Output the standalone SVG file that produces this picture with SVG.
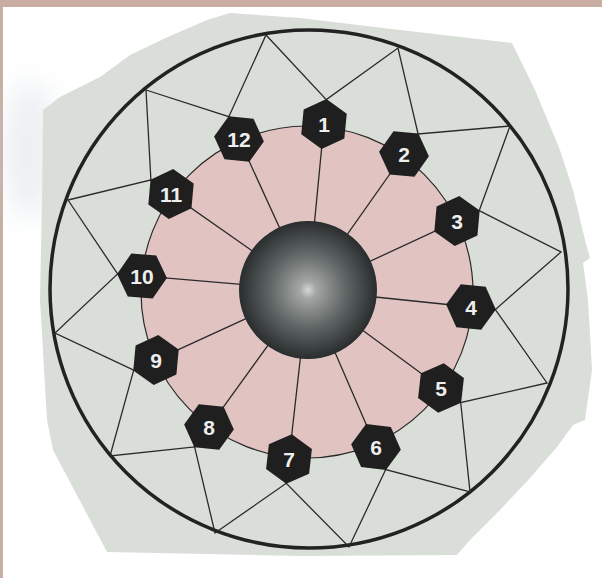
<svg xmlns="http://www.w3.org/2000/svg" width="602" height="578" viewBox="0 0 602 578">
<style>
.ln{stroke:#2a2a2a;stroke-width:1.3;fill:none;stroke-linecap:round}
.hex{fill:#1f1f1f}
.lbl{font-family:"Liberation Sans",Arial,sans-serif;font-weight:bold;font-size:21px;fill:#eeeeee;text-anchor:middle}
</style>
<defs>
<polygon id="hx" points="0,-25 21.65,-12.5 21.65,12.5 0,25 -21.65,12.5 -21.65,-12.5"/>
<radialGradient id="sph" cx="308" cy="290" r="70" gradientUnits="userSpaceOnUse">
<stop offset="0" stop-color="#d4d8d4"/>
<stop offset="0.12" stop-color="#a2a7a5"/>
<stop offset="0.55" stop-color="#5f6464"/>
<stop offset="1" stop-color="#272b2b"/>
</radialGradient>
<filter id="blur" x="-50%" y="-50%" width="200%" height="200%"><feGaussianBlur stdDeviation="14"/></filter>
</defs>
<rect x="0" y="0" width="602" height="578" fill="#ffffff"/>
<rect x="0" y="0" width="602" height="7" fill="#c9ada3"/>
<rect x="0" y="0" width="3" height="578" fill="#c9ada3"/>
<ellipse cx="30" cy="150" rx="28" ry="70" fill="#ccd6dc" opacity="0.35" filter="url(#blur)"/>
<polygon id="paper" fill="#daded8" points="43,110 60,97 100,77 130,55 170,36 207,20 230,13 300,18 400,30 512,43 535,90 560,150 573,190 585,240 590,258 583,263 588,300 592,370 585,420 573,425 557,447 530,478 500,510 470,540 457,555 300,556 107,552 53,450 47,420 40,300 42,200"/>
<circle id="pinkdisc" cx="307" cy="292" r="166" fill="#e1c4c2" stroke="#2a2a2a" stroke-width="1.2"/>
<circle id="outer" cx="309" cy="289" r="259" fill="none" stroke="#222222" stroke-width="3.5"/>
<g id="connectors">
<path class="ln" d="M326.3,99.6 L308,290 M418.1,134 L308,290 M479.2,210.7 L308,290 M495.4,309.5 L308,290 M460.7,402.5 L308,290 M385.7,469.5 L308,290 M286.3,483.3 L308,290 M194.6,446.9 L308,290 M133.7,370.2 L308,290 M117.6,273.9 L308,290 M150.9,179.9 L308,290 M228.8,116.7 L308,290"/>
<path class="ln" d="M146,90 L228.8,116.7 L266,35 L326.3,99.6 L398,48 L418.1,134 L510,126 L479.2,210.7 L561,252 L495.4,309.5 L547,383 L460.7,402.5 L470,492 L385.7,469.5 L349,547 L286.3,483.3 L215,533 L194.6,446.9 L110,456 L133.7,370.2 L55,333 L117.6,273.9 L68,200 L150.9,179.9 Z"/>
</g>
<circle id="sphere" cx="308" cy="290" r="69" fill="url(#sph)"/>
<g id="n1"><use href="#hx" class="hex" transform="translate(324,124) rotate(5.5)"/><text class="lbl" x="324" y="131.5">1</text></g>
<g id="n2"><use href="#hx" class="hex" transform="translate(404,154) rotate(35.2)"/><text class="lbl" x="404" y="161.5">2</text></g>
<g id="n3"><use href="#hx" class="hex" transform="translate(457,221) rotate(65.2)"/><text class="lbl" x="457" y="228.5">3</text></g>
<g id="n4"><use href="#hx" class="hex" transform="translate(471,307) rotate(96)"/><text class="lbl" x="471" y="314.5">4</text></g>
<g id="n5"><use href="#hx" class="hex" transform="translate(441,388) rotate(126.4)"/><text class="lbl" x="441" y="395.5">5</text></g>
<g id="n6"><use href="#hx" class="hex" transform="translate(376,447) rotate(156.6)"/><text class="lbl" x="376" y="454.5">6</text></g>
<g id="n7"><use href="#hx" class="hex" transform="translate(289,459) rotate(186.4)"/><text class="lbl" x="289" y="466.5">7</text></g>
<g id="n8"><use href="#hx" class="hex" transform="translate(209,427) rotate(215.9)"/><text class="lbl" x="209" y="434.5">8</text></g>
<g id="n9"><use href="#hx" class="hex" transform="translate(156,360) rotate(245.3)"/><text class="lbl" x="156" y="367.5">9</text></g>
<g id="n10"><use href="#hx" class="hex" transform="translate(142,276) rotate(274.8)"/><text class="lbl" x="142" y="283.5">10</text></g>
<g id="n11"><use href="#hx" class="hex" transform="translate(171,194) rotate(305)"/><text class="lbl" x="171" y="201.5">11</text></g>
<g id="n12"><use href="#hx" class="hex" transform="translate(239,139) rotate(335.5)"/><text class="lbl" x="239" y="146.5">12</text></g>
</svg>
